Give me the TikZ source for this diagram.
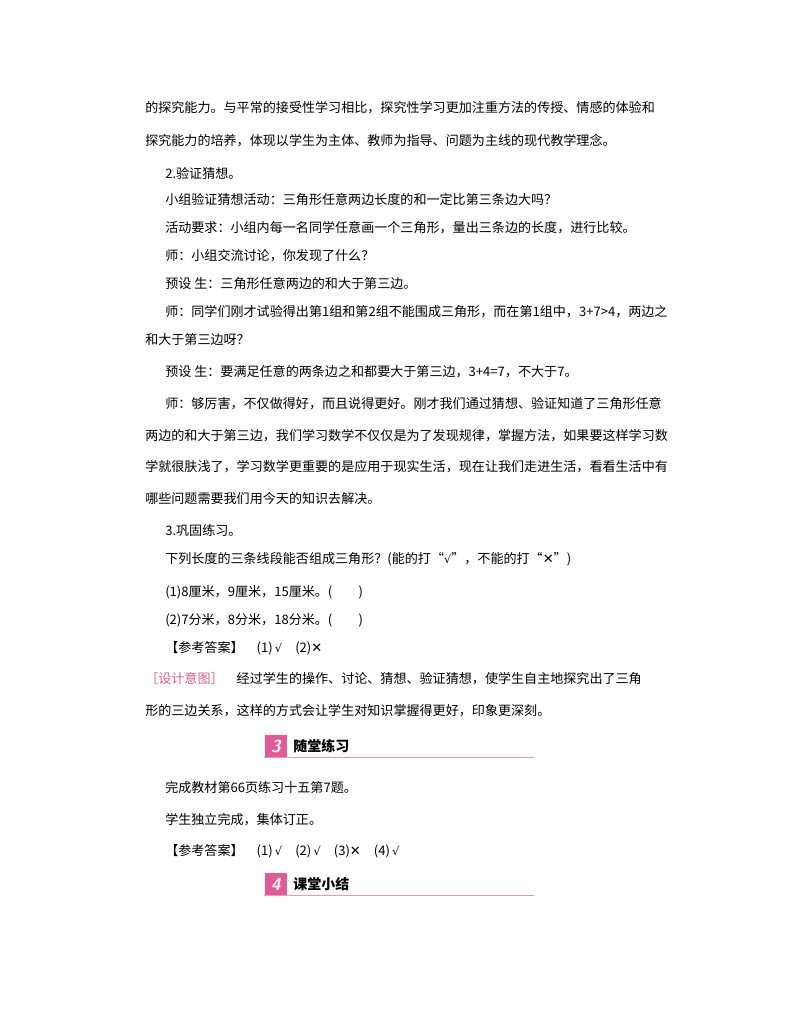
\documentclass[tikz,border=0pt]{standalone}
\usepackage{fontspec}
\newfontfamily\cjk{Noto Sans CJK SC}
\newfontfamily\symf{DejaVu Sans}
\newcommand{\chk}{{\symf\fontsize{8.5pt}{10pt}\selectfont √}}
\newcommand{\crs}{{\symf ✕}}
\definecolor{hdpink}{RGB}{226,90,150}
\definecolor{lnpink}{RGB}{236,150,185}
\tikzset{
  txt/.style={anchor=west,inner sep=0pt,font=\cjk\fontsize{9.8pt}{12pt}\selectfont},
  hdnum/.style={fill=hdpink,text=white,inner sep=0pt,minimum width=17pt,minimum height=17pt,font=\bfseries\itshape\sffamily\fontsize{13pt}{13pt}\selectfont},
  hdtxt/.style={anchor=west,inner sep=0pt,font=\cjk\bfseries\fontsize{10.5pt}{12pt}\selectfont}
}
\begin{document}
\begin{tikzpicture}[x=0.75pt,y=-0.75pt]
\useasboundingbox[fill=white] (0,0) rectangle (800,1028);
% 正文
\node[txt] (l1) at (145,108) {的探究能力。与平常的接受性学习相比，探究性学习更加注重方法的传授、情感的体验和};
\node[txt] (l2) at (145,141) {探究能力的培养，体现以学生为主体、教师为指导、问题为主线的现代教学理念。};
\node[txt] (l3) at (165,173) {2.验证猜想。};
\node[txt] (l4) at (165,200) {小组验证猜想活动：三角形任意两边长度的和一定比第三条边大吗？};
\node[txt] (l5) at (165,228) {活动要求：小组内每一名同学任意画一个三角形，量出三条边的长度，进行比较。};
\node[txt] (l6) at (165,256) {师：小组交流讨论，你发现了什么？};
\node[txt] (l7) at (165,284) {预设\ 生：三角形任意两边的和大于第三边。};
\node[txt] (l8) at (165,312) {师：同学们刚才试验得出第1组和第2组不能围成三角形，而在第1组中，3+7>4，两边之};
\node[txt] (l9) at (145,340) {和大于第三边呀？};
\node[txt] (l10) at (165,372) {预设\ 生：要满足任意的两条边之和都要大于第三边，3+4=7，不大于7。};
\node[txt] (l11) at (165,404) {师：够厉害，不仅做得好，而且说得更好。刚才我们通过猜想、验证知道了三角形任意};
\node[txt] (l12) at (145,436) {两边的和大于第三边，我们学习数学不仅仅是为了发现规律，掌握方法，如果要这样学习数};
\node[txt] (l13) at (145,467) {学就很肤浅了，学习数学更重要的是应用于现实生活，现在让我们走进生活，看看生活中有};
\node[txt] (l14) at (145,499) {哪些问题需要我们用今天的知识去解决。};
\node[txt] (l15) at (165,531) {3.巩固练习。};
\node[txt] (l16) at (165,559) {下列长度的三条线段能否组成三角形？(能的打“\chk”，不能的打“\crs”)};
\node[txt] (l17) at (165,592) {(1)8厘米，9厘米，15厘米。(\qquad)};
\node[txt] (l18) at (165,620) {(2)7分米，8分米，18分米。(\qquad)};
\node[txt] (l19) at (165,648) {【参考答案】\quad (1)\,\chk\quad (2)\crs};
\node[txt] (l20) at (145,679) {\textcolor{hdpink}{［设计意图］}\quad 经过学生的操作、讨论、猜想、验证猜想，使学生自主地探究出了三角};
\node[txt] (l21) at (145,711) {形的三边关系，这样的方式会让学生对知识掌握得更好，印象更深刻。};
% 标题 3
\node[hdnum] (n3) at (276,746) {3};
\node[hdtxt] (h3) at (293,746) {随堂练习};
\draw[lnpink,line width=1.2pt] (n3.south west) -- ++(270,0);
\node[txt] (l22) at (165,788) {完成教材第66页练习十五第7题。};
\node[txt] (l23) at (165,820) {学生独立完成，集体订正。};
\node[txt] (l24) at (165,851) {【参考答案】\quad (1)\,\chk\quad (2)\,\chk\quad (3)\crs\quad (4)\,\chk};
% 标题 4
\node[hdnum] (n4) at (276,884) {4};
\node[hdtxt] (h4) at (293,884) {课堂小结};
\draw[lnpink,line width=1.2pt] (n4.south west) -- ++(270,0);
\end{tikzpicture}
\end{document}
